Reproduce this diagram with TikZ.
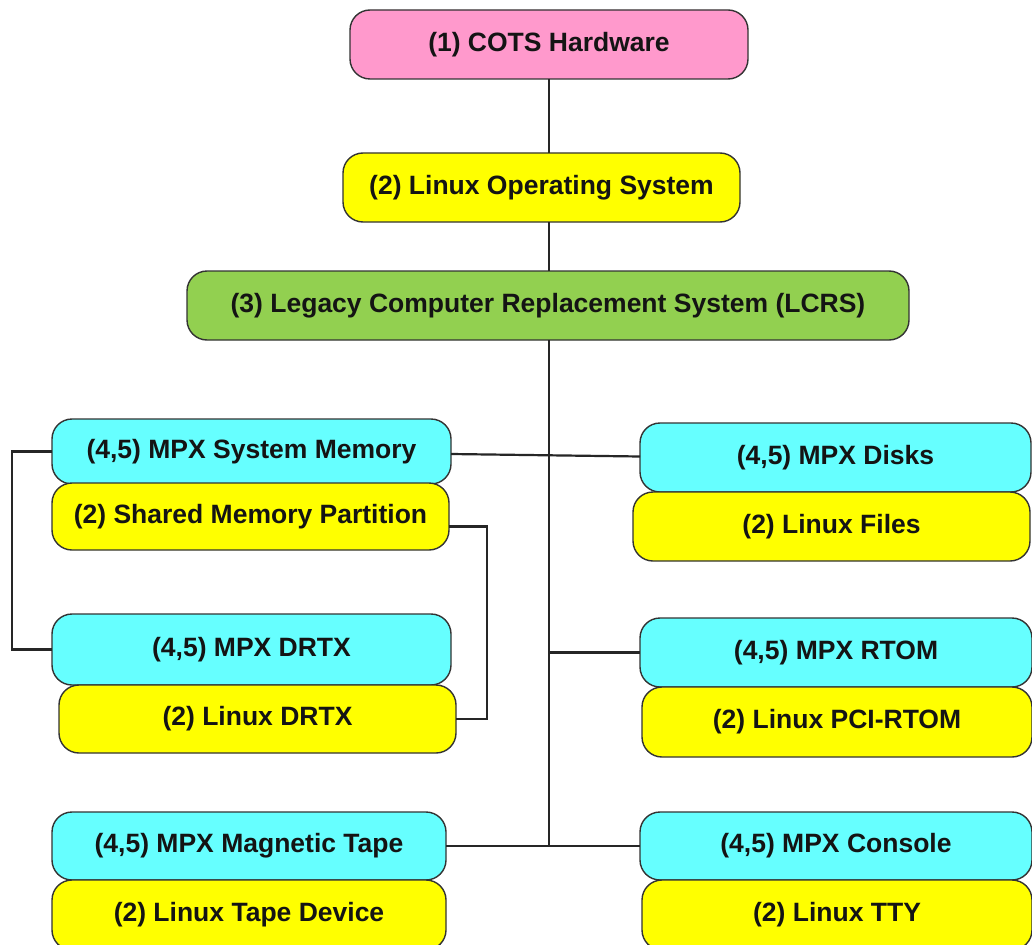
\documentclass[tikz,border=0pt]{standalone}
\usepackage{fontspec}
\setmainfont{Liberation Sans}
\begin{document}
\begin{tikzpicture}[x=1pt,y=-1pt,
  box/.style={draw=black!80, line width=1.4pt, rounded corners=20pt, inner sep=0pt, outer sep=0pt,
    font=\fontsize{26.5}{30}\selectfont\bfseries, text=black!92},
  pinkbox/.style={box, fill={rgb,255:red,255;green,153;blue,204}},
  yelbox/.style={box, fill={rgb,255:red,255;green,255;blue,0}},
  grnbox/.style={box, fill={rgb,255:red,146;green,208;blue,80}},
  cyanbox/.style={box, fill={rgb,255:red,102;green,255;blue,255}},
  conn/.style={draw=black!85, line width=2.2pt}]
\useasboundingbox (0,0) rectangle (1032,944);
\clip (0,0) rectangle (1032,944);
\fill[white] (0,0) rectangle (1032,944);
\coordinate (jbot) at (549,847);
\node[pinkbox, minimum width=398pt, minimum height=69pt] (cots) at (549,44.5) {(1) COTS Hardware};
\node[yelbox, minimum width=397pt, minimum height=69pt] (linuxos) at (541.5,187.5) {(2) Linux Operating System};
\node[grnbox, minimum width=722pt, minimum height=69pt] (lcrs) at (548,305.5) {(3) Legacy Computer Replacement System (LCRS)};
% left column
\node[cyanbox, minimum width=399pt, minimum height=65pt] (sysmem) at (251.5,451.5) {(4,5) MPX System Memory};
\node[yelbox, minimum width=397pt, minimum height=67pt] (shmem) at (250.5,516.5) {(2) Shared Memory Partition};
\node[cyanbox, minimum width=399pt, minimum height=71pt] (mpxdrtx) at (251.5,649.5) {(4,5) MPX DRTX};
\node[yelbox, minimum width=397pt, minimum height=68pt] (linuxdrtx) at (257.5,719) {(2) Linux DRTX};
\node[cyanbox, minimum width=394pt, minimum height=68pt] (tape) at (249,846) {(4,5) MPX Magnetic Tape};
\node[yelbox, minimum width=394pt, minimum height=70pt] (tapedev) at (249,915) {(2) Linux Tape Device};
% right column
\node[cyanbox, minimum width=391pt, minimum height=69pt] (disks) at (835.5,457.5) {(4,5) MPX Disks};
\node[yelbox, minimum width=397pt, minimum height=69pt] (files) at (831.5,526.5) {(2) Linux Files};
\node[cyanbox, minimum width=392pt, minimum height=69pt] (rtom) at (836,652.5) {(4,5) MPX RTOM};
\node[yelbox, minimum width=390pt, minimum height=70pt] (pcirtom) at (837,722) {(2) Linux PCI-RTOM};
\node[cyanbox, minimum width=392pt, minimum height=68pt] (console) at (836,846) {(4,5) MPX Console};
\node[yelbox, minimum width=390pt, minimum height=70pt] (tty) at (837,915) {(2) Linux TTY};
% connectors
\draw[conn] (cots.south) -- (cots.south |- linuxos.north);
\draw[conn] (cots.south |- linuxos.south) -- (cots.south |- lcrs.north);
\draw[conn] (cots.south |- lcrs.south) -- (jbot);
\draw[conn] ([yshift=-2.5pt]sysmem.east) -- ([yshift=1pt]disks.west);
\draw[conn] (rtom.west -| jbot) -- (rtom.west);
\draw[conn] (tape.east) -- (console.west);
\draw[conn] (sysmem.west) -- ++(-40,0) |- (mpxdrtx.west);
\draw[conn] ([yshift=-10pt]shmem.east) -- ++(38,0) |- (linuxdrtx.east);
\end{tikzpicture}
\end{document}
